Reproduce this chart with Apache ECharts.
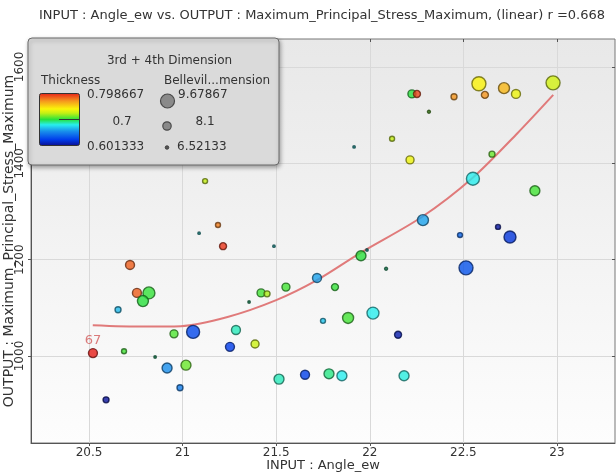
<!DOCTYPE html>
<html><head><meta charset="utf-8">
<script src="https://cdn.jsdelivr.net/npm/echarts@6/dist/echarts.min.js"></script>
<style>html,body{margin:0;padding:0;background:#fff}#c{width:616px;height:475px}</style>
</head><body><div id="c"></div>
<script>
// ---- data ----
const angleEw = [20.719,20.756,20.820,20.788,20.655,20.521,20.687,20.853,20.591,20.917,21.018,20.986,20.954,21.056,21.285,21.253,21.387,21.515,21.654,21.782,21.851,22.183,21.419,21.451,21.355,21.552,21.718,21.814,21.750,21.088,21.189,21.216,21.488,21.120,22.882,22.284,22.482,22.685,22.749,21.953,21.985,22.087,22.514,21.884,22.017,22.151,22.225,22.252,22.450,22.316,22.583,22.615,22.717,22.781,22.979,22.119,21.916,22.215,22.653,22.551];
const maxStress = [1189,1131,1131,1114,1096,1006,1010,998,909,975,981,934,1046,1050,1054,1019,1025,952,961,963,959,959,1131,1129,1112,1143,1162,1143,1073,1255,1272,1228,1228,1363,1343,1282,1251,1268,1247,1208,1220,1181,1183,1079,1089,1044,1544,1544,1538,1507,1565,1542,1556,1544,1567,1451,1434,1407,1419,1368];
const thickness = [0.783,0.783,0.702,0.700,0.667,0.799,0.704,0.690,0.605,0.655,0.710,0.649,0.706,0.629,0.686,0.625,0.726,0.686,0.627,0.692,0.680,0.682,0.704,0.720,0.690,0.704,0.661,0.702,0.670,0.680,0.775,0.793,0.680,0.724,0.704,0.661,0.641,0.607,0.621,0.700,0.680,0.690,0.633,0.704,0.680,0.609,0.700,0.789,0.769,0.710,0.740,0.769,0.759,0.736,0.728,0.724,0.680,0.736,0.710,0.680];
const bellevilDim = [8.36,8.36,9.15,8.89,7.57,8.36,7.31,6.65,7.57,8.62,8.62,7.57,8.10,9.41,8.36,8.36,8.10,8.62,8.36,8.62,8.62,8.62,8.10,7.57,6.65,8.10,8.36,7.84,7.31,6.65,7.31,7.84,6.65,7.31,8.62,8.89,7.31,7.31,9.15,8.62,6.65,6.78,9.68,8.89,9.15,7.84,8.10,7.84,7.57,6.78,9.68,7.84,8.89,8.36,9.68,7.31,6.65,8.10,7.57,9.41];
const trendX = [20.52,20.79,20.99,21.24,21.50,21.72,21.95,22.28,22.55,22.79,22.98];
const trendY = [1064,1061,1062,1081,1116,1158,1214,1289,1370,1463,1542];
const labelIndex = 5;
const labelText = '67';
const xTicks = [20.5,21,21.5,22,22.5,23];
const yTicks = [1000,1200,1400,1600];
const thickLegend = ['0.798667','0.7','0.601333'];
const bellLegend = ['9.67867','8.1','6.52133'];
const thickMin = 0.601333, thickMax = 0.798667;
const bellMin = 6.52133, bellMax = 9.67867;

// ---- styles ----
const FONT = '"DejaVu Sans", Verdana, sans-serif';
const cmapStops = [
  [0.00,[12,12,140]],
  [0.12,[0,60,235]],
  [0.28,[25,145,235]],
  [0.40,[40,238,238]],
  [0.50,[40,225,60]],
  [0.62,[195,240,20]],
  [0.70,[250,245,10]],
  [0.85,[245,150,30]],
  [1.00,[230,30,25]]
];
function cmap(t){
  t = Math.max(0, Math.min(1, t));
  for (let i = 1; i < cmapStops.length; i++){
    const a = cmapStops[i-1], b = cmapStops[i];
    if (t <= b[0]){
      const f = (t - a[0]) / (b[0] - a[0]);
      return a[1].map((v,k)=> Math.round(v + (b[1][k]-v)*f));
    }
  }
  return cmapStops[cmapStops.length-1][1];
}
const rgb = c => 'rgb(' + c.join(',') + ')';
const dark = (c, k) => 'rgb(' + c.map(v=>Math.round(v*k)).join(',') + ')';
const sizeOf = v => 2 + (v - bellMin) / (bellMax - bellMin) * 12;

const points = angleEw.map((x,i)=>{
  const c = cmap((thickness[i]-thickMin)/(thickMax-thickMin));
  const tiny = bellevilDim[i] < 6.9;
  const item = {
    value:[x, maxStress[i], thickness[i], bellevilDim[i]],
    itemStyle:{color: tiny ? dark(c, 0.55) : rgb(c), borderColor: dark(c, tiny ? 0.3 : 0.42), borderWidth: 1.4}
  };
  if (i === labelIndex){
    item.label = {show:true, formatter: labelText, position:'top', distance:1,
      color:'#d25a5a', fontSize:13, fontFamily: FONT};
  }
  return item;
});
const trend = trendX.map((x,i)=>[x, trendY[i]]);

const barGrad = new echarts.graphic.LinearGradient(0,0,0,1,
  cmapStops.slice().reverse().map(s=>({offset: 1 - s[0], color: rgb(s[1])})));

const chart = echarts.init(document.getElementById('c'), null, {renderer:'canvas'});
const axisCommon = {
  axisLine:{show:true, onZero:false, lineStyle:{color:'#555', width:1}},
  splitLine:{show:true, lineStyle:{color:'#d9d9d9', width:1}}
};
const Z = 100;
const txt = (text, x, y, align) => ({type:'text', z:Z+2,
  style:{text, x, y, fill:'#333', font:'12px '+FONT, align, verticalAlign:'middle', textAlign:align, textVerticalAlign:'middle'}});
chart.setOption({
  animation:false,
  grid:{left:31, right:1, top:39, bottom:32, show:true, containLabel:false, outerBoundsMode:'none',
    backgroundColor: new echarts.graphic.LinearGradient(0,0,0,1,[{offset:0,color:'#e8e8e8'},{offset:1,color:'#fdfdfd'}]),
    borderColor:'#777', borderWidth:1},
  xAxis:[{
    type:'value', min:20.19, max:23.31,
    ...axisCommon,
    axisTick:{show:true, customValues:xTicks, length:3, lineStyle:{color:'#555'}},
    axisLabel:{customValues:xTicks, color:'#333', fontSize:12, margin:4, fontFamily:FONT, formatter: v => String(v)},
    name:'INPUT : Angle_ew', nameLocation:'middle', nameGap:16, nameMoveOverlap:false,
    nameTextStyle:{color:'#333', fontSize:13, fontFamily:FONT}
  },{
    type:'value', position:'top', min:20.19, max:23.31,
    axisLine:{show:false}, splitLine:{show:false},
    axisTick:{show:true, inside:true, customValues:xTicks, length:3, lineStyle:{color:'#555'}},
    axisLabel:{show:false}
  }],
  yAxis:[{
    type:'value', min:819.4, max:1658,
    ...axisCommon,
    axisTick:{show:true, customValues:yTicks, length:3, lineStyle:{color:'#555'}},
    axisLabel:{customValues:yTicks, rotate:90, color:'#333', fontSize:12, margin:5, fontFamily:FONT, formatter: v => String(v)},
    name:'OUTPUT : Maximum_Principal_Stress_Maximum', nameLocation:'middle', nameGap:15, nameMoveOverlap:false,
    nameTextStyle:{color:'#333', fontSize:14, fontFamily:FONT}
  },{
    type:'value', position:'right', min:819.4, max:1658,
    axisLine:{show:false}, splitLine:{show:false},
    axisTick:{show:true, inside:true, customValues:yTicks, length:3, lineStyle:{color:'#555'}},
    axisLabel:{show:false}
  }],
  series:[{
    type:'line', data:trend, smooth:0.3, showSymbol:false, z:2,
    lineStyle:{color:'#e07a7a', width:2}
  },{
    type:'scatter', data:points, z:3,
    symbolSize: v => sizeOf(v[3])
  }],
  graphic:[
    {type:'text', z:Z, style:{text:'INPUT : Angle_ew vs. OUTPUT : Maximum_Principal_Stress_Maximum, (linear) r =0.668', x:322, y:16, fill:'#333', font:'13px '+FONT, align:'center', verticalAlign:'middle', textAlign:'center', textVerticalAlign:'middle'}},
    {type:'rect', z:Z, shape:{x:28, y:38, width:251, height:127, r:4},
      style:{fill:'#dadada', stroke:'#6a6a6a', lineWidth:1, shadowBlur:4, shadowOffsetX:1, shadowOffsetY:2, shadowColor:'rgba(0,0,0,0.35)'}},
    {type:'rect', z:Z+1, shape:{x:39.5, y:93.5, width:40, height:52, r:2}, style:{fill:barGrad, stroke:'#333', lineWidth:1}},
    {type:'line', z:Z+2, shape:{x1:59, y1:119.5, x2:79, y2:119.5}, style:{stroke:'#333', lineWidth:1}},
    {type:'circle', z:Z+1, shape:{cx:167.5, cy:101, r:7}, style:{fill:'#8a8a8a', stroke:'#4a4a4a', lineWidth:1.2}},
    {type:'circle', z:Z+1, shape:{cx:167, cy:126, r:4.2}, style:{fill:'#8a8a8a', stroke:'#4a4a4a', lineWidth:1.2}},
    {type:'circle', z:Z+1, shape:{cx:167, cy:147.5, r:1.8}, style:{fill:'#555', stroke:'#333', lineWidth:0.8}},
    txt('3rd + 4th Dimension', 169.5, 61, 'center'),
    txt('Thickness', 41, 81, 'left'),
    txt('Bellevil...mension', 164, 81, 'left'),
    txt(thickLegend[0], 87, 95, 'left'),
    txt(thickLegend[1], 122, 122, 'center'),
    txt(thickLegend[2], 87, 147, 'left'),
    txt(bellLegend[0], 178, 95, 'left'),
    txt(bellLegend[1], 205, 122, 'center'),
    txt(bellLegend[2], 177, 147, 'left')
  ]
});
</script>
</body></html>
